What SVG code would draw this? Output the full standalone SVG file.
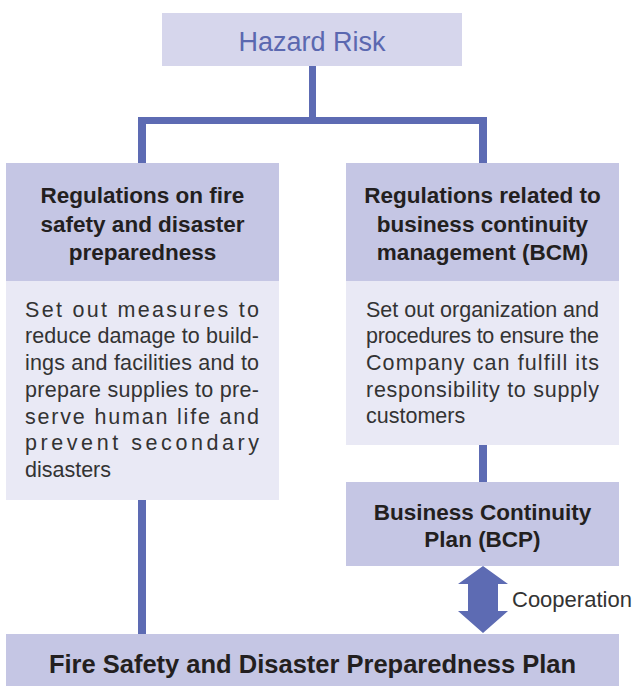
<svg xmlns="http://www.w3.org/2000/svg" width="635" height="686" viewBox="0 0 635 686">
<style>
.hdr{fill:#c5c6e4}
.body{fill:#e9e9f5}
.ht{font-family:"Liberation Sans",Arial,sans-serif;font-weight:bold;font-size:22.5px;fill:#231f20;text-anchor:middle}
.big{font-size:25.5px}
.bt{font-family:"Liberation Sans",Arial,sans-serif;font-size:21.5px;fill:#333}
.ln{fill:#5d6bb3}
</style>
<rect width="635" height="686" fill="#fff"/>
<g id="connectors">
<rect class="ln" x="309" y="66" width="7" height="55"/>
<rect class="ln" x="138" y="117" width="349" height="7"/>
<rect class="ln" x="138" y="117" width="8" height="46"/>
<rect class="ln" x="479" y="117" width="8" height="46"/>
<rect class="ln" x="138" y="500" width="8" height="134"/>
<rect class="ln" x="479" y="445" width="8" height="37"/>
<polygon class="ln" points="483,566 508,584 498,584 498,611 508,611 483,633 458,611 468,611 468,584 458,584"/>
<text x="512" y="607" font-family="'Liberation Sans',Arial,sans-serif" font-size="22" fill="#333">Cooperation</text>
</g>
<g id="hazard">
<rect x="162" y="13" width="300" height="53" fill="#d6d6ec"/>
<text x="312" y="51" font-family="'Liberation Sans',Arial,sans-serif" font-size="27" fill="#5b68b0" text-anchor="middle">Hazard Risk</text>
</g>
<g id="fire-regs">
<rect class="hdr" x="6" y="163" width="273" height="118"/>
<rect class="body" x="6" y="281" width="273" height="219"/>
<text class="ht" x="142.5" y="203">Regulations on fire</text>
<text class="ht" x="142.5" y="232">safety and disaster</text>
<text class="ht" x="142.5" y="260">preparedness</text>
<text class="bt" x="25" y="317" textLength="234" lengthAdjust="spacing">Set out measures to</text>
<text class="bt" x="25" y="343" textLength="234" lengthAdjust="spacing">reduce damage to build-</text>
<text class="bt" x="25" y="370" textLength="234" lengthAdjust="spacing">ings and facilities and to</text>
<text class="bt" x="25" y="397" textLength="234" lengthAdjust="spacing">prepare supplies to pre-</text>
<text class="bt" x="25" y="424" textLength="234" lengthAdjust="spacing">serve human life and</text>
<text class="bt" x="25" y="450" textLength="234" lengthAdjust="spacing">prevent secondary</text>
<text class="bt" x="25" y="477">disasters</text>
</g>
<g id="bcm-regs">
<rect class="hdr" x="346" y="163" width="273" height="118"/>
<rect class="body" x="346" y="281" width="273" height="164"/>
<text class="ht" x="482.5" y="203">Regulations related to</text>
<text class="ht" x="482.5" y="232">business continuity</text>
<text class="ht" x="482.5" y="260">management (BCM)</text>
<text class="bt" x="366" y="317" textLength="233" lengthAdjust="spacing">Set out organization and</text>
<text class="bt" x="366" y="343" textLength="233" lengthAdjust="spacing">procedures to ensure the</text>
<text class="bt" x="366" y="370" textLength="233" lengthAdjust="spacing">Company can fulfill its</text>
<text class="bt" x="366" y="397" textLength="233" lengthAdjust="spacing">responsibility to supply</text>
<text class="bt" x="366" y="423">customers</text>
</g>
<g id="bcp">
<rect class="hdr" x="346" y="482" width="273" height="84"/>
<text class="ht" x="482.5" y="520">Business Continuity</text>
<text class="ht" x="482.5" y="547">Plan (BCP)</text>
</g>
<g id="fire-plan">
<rect class="hdr" x="6" y="634" width="613" height="52"/>
<text class="ht big" x="312.5" y="673">Fire Safety and Disaster Preparedness Plan</text>
</g>
</svg>
